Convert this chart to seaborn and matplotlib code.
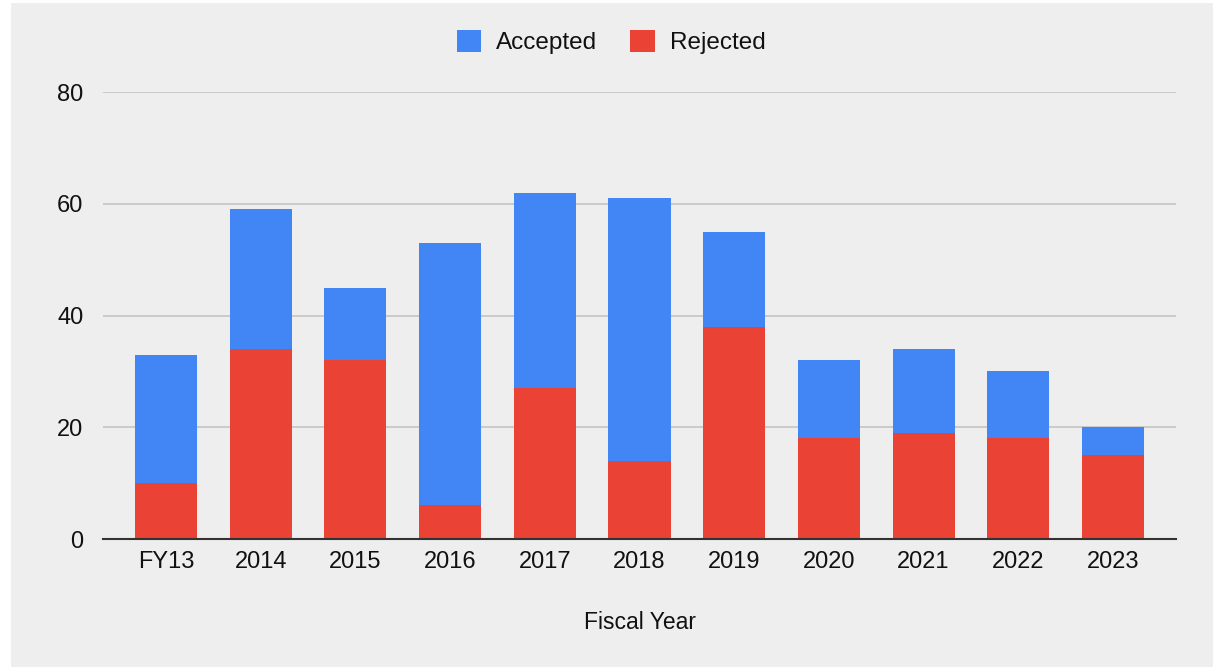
import matplotlib
matplotlib.use("Agg")
import matplotlib.pyplot as plt
import matplotlib.patches as mpatches
import pandas as pd
import seaborn as sns

# Data
years = ["FY13", "2014", "2015", "2016", "2017", "2018", "2019", "2020", "2021", "2022", "2023"]
rejected = [10, 34, 32, 6, 27, 14, 38, 18, 19, 18, 15]
accepted = [23, 25, 13, 47, 35, 47, 17, 14, 15, 12, 5]

blue = "#4285f4"
red = "#ea4335"
bg = "#eeeeee"

df = pd.DataFrame({"Year": years, "Rejected": rejected, "Accepted": accepted})
df["Total"] = df["Rejected"] + df["Accepted"]

sns.set_theme(style="white")
plt.rcParams["font.family"] = ["Liberation Sans", "DejaVu Sans"]

fig = plt.figure(figsize=(12.15, 6.7), dpi=100)
fig.patch.set_facecolor("white")
fig.patches.append(mpatches.Rectangle((11 / 1215, 3 / 670), 1202 / 1215, 664 / 670,
                                      transform=fig.transFigure, facecolor=bg,
                                      edgecolor="none", zorder=-10))
ax = fig.add_axes([103 / 1215, 1 - 539 / 670, 1073 / 1215, 447 / 670])
ax.set_facecolor(bg)

# stacked: total in blue underneath, rejected in red drawn over it
sns.barplot(data=df, x="Year", y="Total", color=blue, width=0.655, linewidth=0,
            saturation=1, label="Accepted", ax=ax, zorder=3)
sns.barplot(data=df, x="Year", y="Rejected", color=red, width=0.655, linewidth=0,
            saturation=1, label="Rejected", ax=ax, zorder=3)

ax.set_ylim(0, 80)
ax.set_xlim(-0.665, 10.665)
ax.set_yticks([0, 20, 40, 60, 80])
ax.yaxis.grid(True, color="#c4c4c4", linewidth=1.2, zorder=0)
ax.set_axisbelow(True)
for s in ["top", "right", "left"]:
    ax.spines[s].set_visible(False)
ax.spines["bottom"].set_color("#333333")
ax.spines["bottom"].set_linewidth(1.5)
ax.spines["bottom"].set_zorder(4)
ax.tick_params(axis="both", length=0, labelsize=17, colors="#111111")
ax.tick_params(axis="y", pad=14)
ax.tick_params(axis="x", pad=9)
ax.set_ylabel("")
ax.set_xlabel("Fiscal Year", fontsize=16.5, color="#111111", labelpad=27)

handles, labels = ax.get_legend_handles_labels()
leg = fig.legend(handles[:2], labels[:2], loc="center", bbox_to_anchor=(0.503, 1 - 42 / 670),
                 ncol=2, frameon=False, fontsize=17.5, handlelength=1.0, handleheight=1.0,
                 columnspacing=1.36, handletextpad=0.62, labelcolor="#111111")
for h in leg.legend_handles:
    h.set_edgecolor("none")
if ax.get_legend() is not None:
    ax.get_legend().remove()

fig.savefig("out.png", dpi=100, facecolor=fig.get_facecolor())
